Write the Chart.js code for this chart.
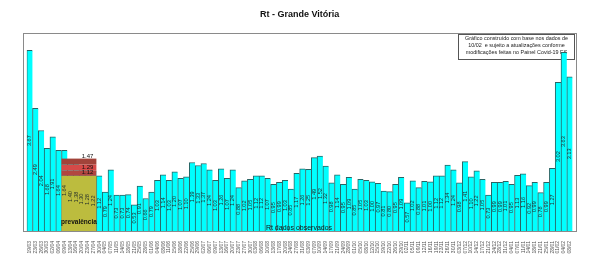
<!DOCTYPE html>
<html><head><meta charset="utf-8">
<script src="https://cdn.jsdelivr.net/npm/chart.js@4/dist/chart.umd.min.js"></script>
<style>html,body{margin:0;padding:0;background:#fff}canvas{display:block}</style>
</head><body>
<canvas id="c" width="600" height="278"></canvas>
<script>
const categories = ["19/03","23/03","26/03","30/03","02/04","06/04","09/04","13/04","16/04","20/04","23/04","27/04","30/04","04/05","07/05","11/05","14/05","18/05","21/05","25/05","28/05","01/06","04/06","08/06","11/06","15/06","18/06","22/06","25/06","29/06","02/07","06/07","09/07","13/07","16/07","20/07","23/07","27/07","30/07","03/08","06/08","10/08","13/08","17/08","20/08","24/08","27/08","31/08","03/09","07/09","10/09","14/09","17/09","21/09","24/09","28/09","01/10","05/10","08/10","12/10","15/10","19/10","22/10","26/10","29/10","02/11","05/11","09/11","12/11","16/11","19/11","23/11","26/11","30/11","03/12","07/12","10/12","14/12","17/12","21/12","24/12","28/12","31/12","04/01","07/01","11/01","14/01","18/01","21/01","25/01","28/01","01/02","04/02","08/02"];
const rtValues = [3.67,2.49,2.04,1.68,1.91,1.64,1.64,1.40,1.38,1.30,1.28,1.22,1.12,0.79,1.24,0.73,0.73,0.74,0.53,0.91,0.66,0.79,1.03,1.14,1.03,1.20,1.07,1.10,1.39,1.33,1.37,1.24,1.03,1.26,1.07,1.24,0.88,1.02,1.05,1.12,1.12,1.07,0.95,0.99,1.03,0.85,1.17,1.26,1.25,1.49,1.52,1.32,0.98,1.14,0.95,1.09,0.85,1.05,1.03,1.00,0.97,0.81,0.80,0.95,1.09,0.57,1.02,0.88,1.01,1.00,1.12,1.12,1.34,1.24,0.98,1.41,1.10,1.22,1.05,0.73,0.99,0.99,1.01,0.95,1.13,1.16,0.92,0.99,0.78,0.99,1.27,3.02,3.63,3.13];
const prevalenceFirst = 6;
const prevalenceLast = 11;
const prevalenceLevels = [1.12, 1.29, 1.47];
const prevalenceBands = [[0, 1.12], [1.12, 1.23], [1.23, 1.35], [1.35, 1.47]];
const titleText = "Rt - Grande Vitória";
const noteLines = ["Gráfico construído com base nos dados de", "10/02  e sujeito a atualizações conforme", "modificações feitas no Painel Covid-19 ES"];
const prevalenceText = "prevalência";
const observedText = "Rt dados observados";

const FONT = "'Liberation Sans', Arial, sans-serif";
const bandColors = ['#bcbc3e', '#b24640', '#d64a48', '#a2433a'];

const overlay = {
  id: 'overlay',
  beforeDatasetsDraw(chart) {
    const ctx = chart.ctx, a = chart.chartArea;
    ctx.save();
    // plot frame
    ctx.strokeStyle = '#8a8a8a'; ctx.lineWidth = 1;
    ctx.strokeRect(23.5, Math.round(a.top) + 0.5, 553, a.bottom - a.top);
    // note box
    ctx.fillStyle = '#fff';
    ctx.fillRect(458, 34, 117, 26);
    ctx.strokeStyle = '#555';
    ctx.strokeRect(458.5, 34.5, 116, 25);
    ctx.fillStyle = '#222';
    ctx.font = '5.4px ' + FONT;
    ctx.textAlign = 'center'; ctx.textBaseline = 'middle';
    noteLines.forEach((t, i) => ctx.fillText(t, 516.5, 39 + i * 6.6));
    ctx.restore();
  },
  afterDatasetsDraw(chart) {
    const ctx = chart.ctx, meta = chart.getDatasetMeta(0), ys = chart.scales.y;
    ctx.save();
    const b0 = meta.data[prevalenceFirst], b1 = meta.data[prevalenceLast];
    const x0 = b0.x - b0.width / 2, x1 = b1.x + b1.width / 2;
    prevalenceBands.forEach((bd, i) => {
      const yt = ys.getPixelForValue(bd[1]), yb = ys.getPixelForValue(bd[0]);
      ctx.fillStyle = bandColors[i];
      ctx.fillRect(x0, yt, x1 - x0, yb - yt);
    });
    // value labels
    ctx.fillStyle = '#1e2a2a';
    ctx.font = '5.6px ' + FONT;
    ctx.textAlign = 'center'; ctx.textBaseline = 'middle';
    meta.data.forEach((bar, i) => {
      const v = rtValues[i];
      ctx.save();
      ctx.translate(bar.x, ys.getPixelForValue(v / 2));
      ctx.rotate(-Math.PI / 2);
      ctx.fillText(v.toFixed(2), 0, 0);
      ctx.restore();
    });
    // prevalence level labels
    ctx.fillStyle = '#111';
    ctx.font = '6px ' + FONT;
    ctx.textAlign = 'right';
    ctx.fillText(prevalenceLevels[2].toFixed(2), x1 - 3, ys.getPixelForValue(prevalenceLevels[2]) - 2.5);
    ctx.fillText(prevalenceLevels[1].toFixed(2), x1 - 3, ys.getPixelForValue(prevalenceLevels[1]));
    ctx.fillText(prevalenceLevels[0].toFixed(2), x1 - 3, ys.getPixelForValue(prevalenceLevels[0]) - 3);
    // texts
    ctx.textAlign = 'center';
    ctx.font = 'bold 6.5px ' + FONT;
    ctx.fillText(prevalenceText, (x0 + x1) / 2, 222);
    ctx.font = '7px ' + FONT;
    ctx.fillText(observedText, 299, 228);
    ctx.restore();
  }
};

new Chart(document.getElementById('c'), {
  type: 'bar',
  data: {
    labels: categories,
    datasets: [{
      data: rtValues,
      backgroundColor: '#00ffff',
      borderColor: '#2a6464',
      borderWidth: {left: 1, top: 1, right: 0, bottom: 0},
      borderSkipped: false,
      barPercentage: 1,
      categoryPercentage: 1
    }]
  },
  options: {
    responsive: false,
    animation: false,
    events: [],
    layout: {padding: {left: 26.7, right: 27.4, top: 0, bottom: 0}},
    plugins: {
      legend: {display: false},
      tooltip: {enabled: false},
      title: {display: true, text: titleText, color: '#111', font: {family: FONT, size: 9, weight: 'bold'}, padding: {top: 9, bottom: 13.2}}
    },
    scales: {
      x: {
        offset: true,
        grid: {display: false},
        border: {display: false},
        ticks: {autoSkip: false, maxRotation: 90, minRotation: 90, padding: 2, color: '#555', font: {family: FONT, size: 5}},
        afterFit(s) { s.height = 47; }
      },
      y: {display: false, min: 0, max: 4.02}
    }
  },
  plugins: [overlay]
});
</script>
</body></html>
